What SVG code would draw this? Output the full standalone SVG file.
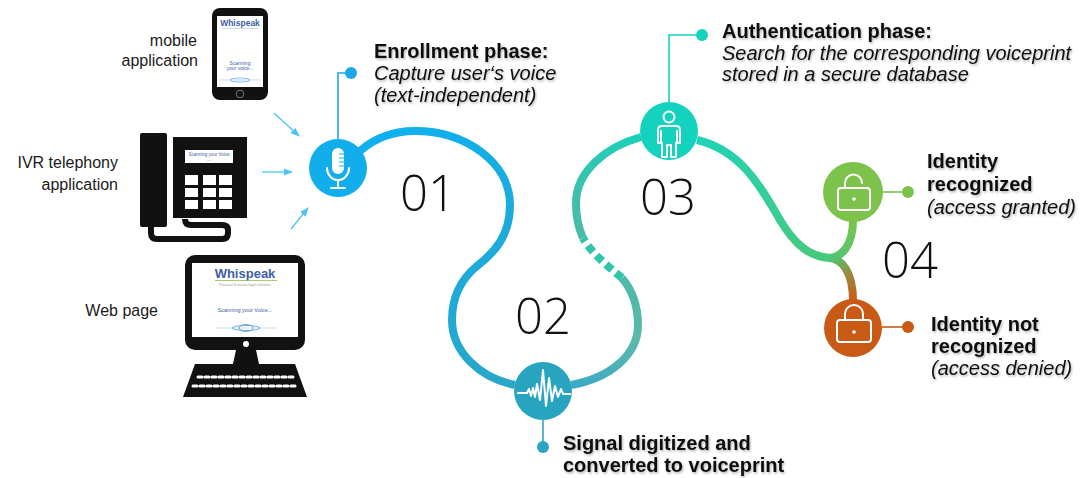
<svg xmlns="http://www.w3.org/2000/svg" width="1084" height="478" viewBox="0 0 1084 478">
  <style>
    .lbl { font-family: "Liberation Sans", Arial, sans-serif; font-size: 16px; fill: #1a1a1a; text-anchor: end; }
    .head { font-family: "Liberation Sans", Arial, sans-serif; font-size: 20px; font-weight: bold; fill: #111; }
    .sub { font-family: "Liberation Sans", Arial, sans-serif; font-size: 20px; font-style: italic; fill: #111; }
    .num { font-family: "Open Sans", "DejaVu Sans", sans-serif; font-size: 49px; font-weight: 300; fill: #111; }
    .track { fill: none; stroke-width: 8; stroke-linecap: butt; }
    .feed { stroke: #4fc3f7; stroke-width: 1.3; fill: none; marker-end: url(#tip); }
    .icon { fill: none; stroke: #fff; stroke-width: 2; stroke-linecap: round; stroke-linejoin: round; }
    .lead { stroke-width: 1.6; fill: none; }
    .scr { font-family: "Liberation Sans", Arial, sans-serif; text-anchor: middle; }
  </style>
  <defs>
    <marker id="tip" viewBox="0 0 10 10" refX="9" refY="5" markerWidth="7" markerHeight="7" orient="auto">
      <path d="M0,1 L10,5 L0,9 Z" fill="#4fc3f7"/>
    </marker>
    <filter id="shade" x="-5%" y="-20%" width="110%" height="150%">
      <feDropShadow dx="1" dy="1.5" stdDeviation="1" flood-color="#000" flood-opacity="0.3"/>
    </filter>
    <linearGradient id="g1" gradientUnits="userSpaceOnUse" x1="360" y1="130" x2="515" y2="390">
      <stop offset="0" stop-color="#0cb1f0"/>
      <stop offset="1" stop-color="#2aa6c8"/>
    </linearGradient>
    <linearGradient id="g2" gradientUnits="userSpaceOnUse" x1="571" y1="386" x2="625" y2="278">
      <stop offset="0" stop-color="#39a9c6"/>
      <stop offset="0.6" stop-color="#5ab9a8"/>
      <stop offset="1" stop-color="#4cbaa9"/>
    </linearGradient>
    <linearGradient id="g3" gradientUnits="userSpaceOnUse" x1="583" y1="240" x2="641" y2="135">
      <stop offset="0" stop-color="#4bbaa6"/>
      <stop offset="1" stop-color="#1cd0b9"/>
    </linearGradient>
    <linearGradient id="g4" gradientUnits="userSpaceOnUse" x1="697" y1="140" x2="830" y2="258">
      <stop offset="0" stop-color="#1fd3b8"/>
      <stop offset="1" stop-color="#48c97a"/>
    </linearGradient>
    <linearGradient id="g5" gradientUnits="userSpaceOnUse" x1="830" y1="258" x2="853" y2="220">
      <stop offset="0" stop-color="#4dc878"/>
      <stop offset="1" stop-color="#7cc24b"/>
    </linearGradient>
    <linearGradient id="g6" gradientUnits="userSpaceOnUse" x1="830" y1="258" x2="853" y2="302">
      <stop offset="0" stop-color="#4dc878"/>
      <stop offset="0.45" stop-color="#9a8a40"/>
      <stop offset="1" stop-color="#c85a16"/>
    </linearGradient>
  </defs>

  <rect width="1084" height="478" fill="#fff"/>

  <!-- main track joining the four steps -->
  <g id="connectors">
    <path class="track" stroke="url(#g1)" d="M360,151 C376,137 395,131 415,131 C465,131 510,162 510,205 C510,236 494,253 477,266 C460,280 452,298 452,320 C452,352 480,378 515,385"/>
    <path class="track" stroke="url(#g2)" d="M571,385 C610,378 638,355 638,325 C638,305 632,290 622,278"/>
    <path class="track" stroke="#2dc6ab" stroke-dasharray="8 5" d="M622,278 C608,266 592,254 583,238"/>
    <path class="track" stroke="url(#g3)" d="M583,238 C579,229 576,218 576,203 C576,172 605,147 641,137"/>
    <path class="track" stroke="url(#g4)" d="M697,140 C740,150 760,185 780,220 C795,245 810,257 830,258"/>
    <path class="track" stroke="url(#g5)" d="M828,258 C842,258 853,245 853,220"/>
    <path class="track" stroke="url(#g6)" d="M828,258 C842,258 853,272 853,301"/>

    <!-- leader lines to captions -->
    <path class="lead" stroke="#1ca8e6" d="M338,139 V73 H350"/>
    <circle cx="351" cy="73" r="6" fill="#1ca8e6"/>
    <path class="lead" stroke="#2aa6c4" d="M543,420 V447"/>
    <circle cx="543" cy="447" r="6" fill="#2aa6c4"/>
    <path class="lead" stroke="#14d2bd" d="M669,102 V35 H702"/>
    <circle cx="702" cy="35" r="6" fill="#14d2bd"/>
    <path class="lead" stroke="#7cc24b" d="M883,192 H908"/>
    <circle cx="908" cy="192" r="6" fill="#7cc24b"/>
    <path class="lead" stroke="#c85a16" d="M882,327 H908"/>
    <circle cx="908" cy="327" r="6" fill="#c85a16"/>

    <!-- channel arrows -->
    <path class="feed" d="M274,113 L299,136"/>
    <path class="feed" d="M262,172 L292,172"/>
    <path class="feed" d="M291,229 L308,208"/>
  </g>

  <!-- step 1: microphone -->
  <g id="enroll">
    <circle cx="338" cy="168" r="29" fill="#11aeeb"/>
    <rect x="332" y="148" width="12" height="26" rx="6" fill="#fff"/>
    <path d="M339,154 H344 M339,158 H344 M339,162 H344 M339,166 H344" stroke="#11aeeb" stroke-width="1.2"/>
    <path class="icon" d="M327,168 A11,12 0 0 0 349,168 M338,180 V188 M331,188 H345"/>
  </g>

  <!-- step 2: waveform -->
  <g id="digitize">
    <circle cx="543" cy="391" r="29" fill="#28a4c1"/>
    <path class="icon" stroke-width="1.8" d="M518,393 H527 L529,389 L531,396 L533,388 L535,397 L537,384 L540,400 L543,370 L546,406 L549,378 L552,401 L555,386 L558,397 L561,389 L563,394 H570"/>
  </g>

  <!-- step 3: person -->
  <g id="authenticate">
    <circle cx="669" cy="131" r="29" fill="#14d3be"/>
    <circle cx="669" cy="117" r="5.5" class="icon" stroke-width="1.6"/>
    <path class="icon" stroke-width="1.6" d="M662,126 H676 Q680,126 680,130 V143 H677 V131 M677,143 H676 V157 H671 V145 H667 V157 H662 V143 H661 M661,131 V143 H658 V130 Q658,126 662,126"/>
  </g>

  <!-- step 4: outcomes -->
  <g id="granted">
    <circle cx="853" cy="192" r="30" fill="#7cc24b"/>
    <rect x="838" y="188" width="32" height="22" rx="3" class="icon"/>
    <path class="icon" d="M845,188 V183 A8.5,8.5 0 0 1 862,183"/>
    <circle cx="854" cy="199" r="1.8" fill="#fff"/>
  </g>
  <g id="denied">
    <circle cx="853" cy="328" r="29" fill="#c85a16"/>
    <rect x="837" y="320" width="34" height="22" rx="3" class="icon"/>
    <path class="icon" d="M845,320 V314 A9,9 0 0 1 863,314 V320"/>
    <circle cx="854" cy="332" r="1.8" fill="#fff"/>
  </g>

  <!-- step numbers -->
  <g id="numbers">
    <text class="num" x="400" y="211">01</text>
    <text class="num" x="515" y="334">02</text>
    <text class="num" x="640" y="215">03</text>
    <text class="num" x="882" y="278">04</text>
  </g>

  <!-- captions -->
  <g id="captions" filter="url(#shade)">
    <text class="head" x="374" y="58">Enrollment phase:</text>
    <text class="sub" x="374" y="80">Capture user‘s voice</text>
    <text class="sub" x="374" y="102">(text-independent)</text>

    <text class="head" x="722" y="38">Authentication phase:</text>
    <text class="sub" x="722" y="60">Search for the corresponding voiceprint</text>
    <text class="sub" x="722" y="81">stored in a secure database</text>

    <text class="head" x="563" y="450">Signal digitized and</text>
    <text class="head" x="563" y="472">converted to voiceprint</text>

    <text class="head" x="927" y="168">Identity</text>
    <text class="head" x="927" y="191">recognized</text>
    <text class="sub" x="927" y="214">(access granted)</text>

    <text class="head" x="931" y="331">Identity not</text>
    <text class="head" x="931" y="353">recognized</text>
    <text class="sub" x="931" y="375">(access denied)</text>
  </g>

  <!-- channel labels -->
  <g id="channel-labels">
    <text class="lbl" x="197" y="46">mobile</text>
    <text class="lbl" x="198" y="66">application</text>
    <text class="lbl" x="118" y="168">IVR telephony</text>
    <text class="lbl" x="118" y="190">application</text>
    <text class="lbl" x="158" y="316">Web page</text>
  </g>

  <!-- mobile phone -->
  <g id="mobile">
    <rect x="212" y="8" width="56" height="92" rx="8" fill="#111"/>
    <rect x="217" y="16" width="46" height="71" fill="#fff"/>
    <text class="scr" x="240" y="26" font-size="8.5" font-weight="bold" fill="#3d5fa6">Whispeak</text>
    <rect x="222" y="28" width="36" height="1" fill="#cfd8e6"/>
    <text class="scr" x="240" y="65" font-size="5" fill="#3d5fa6">Scanning</text>
    <text class="scr" x="240" y="70" font-size="5" fill="#3d5fa6">your voice...</text>
    <path d="M219,80 H261" stroke="#b7d4ef" stroke-width="0.8"/>
    <ellipse cx="240" cy="80" rx="10" ry="2" fill="none" stroke="#6fa8dc" stroke-width="0.8"/>
    <circle cx="240" cy="94" r="3.8" fill="#111" stroke="#777" stroke-width="1"/>
  </g>

  <!-- desk telephone -->
  <g id="ivr">
    <rect x="140" y="133" width="27" height="94" rx="2" fill="#111"/>
    <rect x="173" y="137" width="74" height="81" fill="#111"/>
    <rect x="185" y="150" width="48" height="13" fill="#fff"/>
    <text class="scr" x="209" y="156" font-size="4.5" fill="#3d5fa6">Scanning your Voice</text>
    <text class="scr" x="209" y="161" font-size="4.5" fill="#3d5fa6">...</text>
    <g fill="#fff">
      <rect x="185" y="175" width="13" height="10"/>
      <rect x="203" y="175" width="13" height="10"/>
      <rect x="219" y="175" width="13" height="10"/>
      <rect x="185" y="188" width="13" height="9"/>
      <rect x="203" y="188" width="13" height="9"/>
      <rect x="219" y="188" width="13" height="9"/>
      <rect x="185" y="200" width="13" height="9"/>
      <rect x="203" y="200" width="13" height="9"/>
      <rect x="219" y="200" width="13" height="9"/>
    </g>
    <path d="M151,225 V233 Q151,239 157,239 H222 Q228,239 228,233 V230 Q228,225 222,225 H191 Q185,225 185,219" fill="none" stroke="#111" stroke-width="6"/>
  </g>

  <!-- desktop computer -->
  <g id="web">
    <rect x="185" y="255" width="120" height="95" rx="10" fill="#111"/>
    <rect x="192" y="263" width="106" height="74" fill="#fff"/>
    <text class="scr" x="245" y="278" font-size="13" font-weight="bold" fill="#3d5fa6">Whispeak</text>
    <rect x="215" y="280" width="62" height="0.8" fill="#8bc34a"/>
    <text class="scr" x="245" y="285.5" font-size="3.5" fill="#999">Practical &amp; secure login solutions</text>
    <text class="scr" x="245" y="312" font-size="5.5" fill="#3d5fa6">Scanning your Voice...</text>
    <path d="M215,328 H277" stroke="#b7d4ef" stroke-width="0.8"/>
    <ellipse cx="246" cy="328" rx="14" ry="2.5" fill="none" stroke="#6fa8dc" stroke-width="0.9"/>
    <ellipse cx="246" cy="328" rx="7" ry="3.5" fill="none" stroke="#3d7fc4" stroke-width="0.7"/>
    <circle cx="246" cy="344" r="3" fill="#fff"/>
    <path d="M236,350 H256 L259,364 H233 Z" fill="#111"/>
    <path d="M195,364 H295 L307,397 H183 Z" fill="#111"/>
    <path d="M198,377 H294" stroke="#fff" stroke-width="3" stroke-dasharray="4 3" stroke-linecap="round"/>
    <path d="M193,386 H298" stroke="#fff" stroke-width="3" stroke-dasharray="4 3" stroke-linecap="round"/>
  </g>
</svg>
